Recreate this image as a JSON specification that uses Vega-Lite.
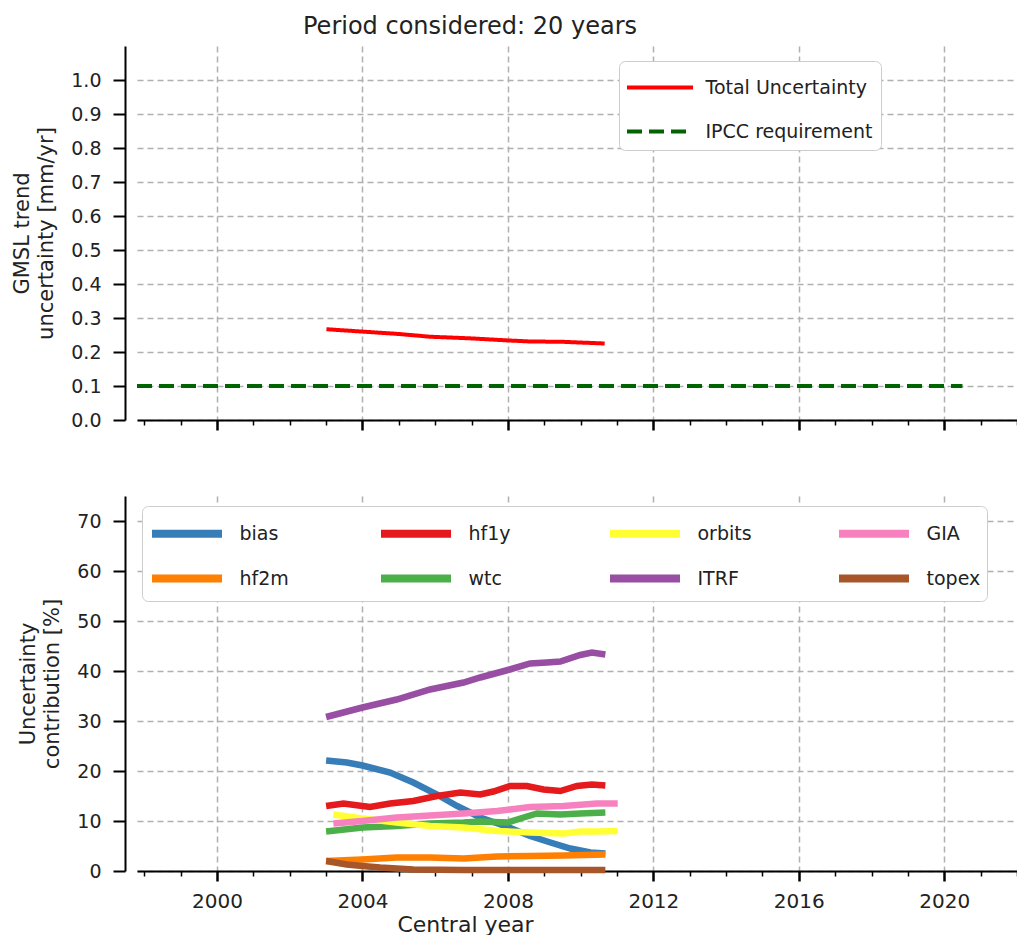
{
  "$schema": "https://vega.github.io/schema/vega-lite/v6.json",
  "padding": {"left": 11, "top": 15, "right": 0, "bottom": 0},
  "config": {
    "font": "DejaVu Sans",
    "view": {"stroke": null},
    "axis": {
      "domainColor": "black", "domainWidth": 2, "tickColor": "black",
      "labelColor": "#222222", "titleColor": "#222222",
      "labelFontSize": 19, "titleFontSize": 21, "titleFontWeight": "normal",
      "gridColor": "#b0b0b0", "gridDash": [6, 4], "gridWidth": 1.5, "labelOverlap": false
    }
  },
  "datasets": {
    "top": [
      {"year": 2003.01, "value": 0.267, "series": "Total Uncertainty"},
      {"year": 2004.0, "value": 0.260, "series": "Total Uncertainty"},
      {"year": 2005.0, "value": 0.253, "series": "Total Uncertainty"},
      {"year": 2005.85, "value": 0.245, "series": "Total Uncertainty"},
      {"year": 2007.0, "value": 0.240, "series": "Total Uncertainty"},
      {"year": 2008.0, "value": 0.234, "series": "Total Uncertainty"},
      {"year": 2008.6, "value": 0.231, "series": "Total Uncertainty"},
      {"year": 2009.5, "value": 0.230, "series": "Total Uncertainty"},
      {"year": 2010.66, "value": 0.225, "series": "Total Uncertainty"},
      {"year": 1997.8, "value": 0.1, "series": "IPCC requirement"},
      {"year": 2020.5, "value": 0.1, "series": "IPCC requirement"}
    ],
    "bottom": [
      {"year": 2003.0, "value": 22.1, "component": "bias"},
      {"year": 2003.57, "value": 21.7, "component": "bias"},
      {"year": 2004.0, "value": 21.1, "component": "bias"},
      {"year": 2004.76, "value": 19.7, "component": "bias"},
      {"year": 2005.4, "value": 17.7, "component": "bias"},
      {"year": 2006.05, "value": 15.3, "component": "bias"},
      {"year": 2006.6, "value": 13.0, "component": "bias"},
      {"year": 2007.24, "value": 10.7, "component": "bias"},
      {"year": 2008.0, "value": 8.8, "component": "bias"},
      {"year": 2008.61, "value": 7.0, "component": "bias"},
      {"year": 2009.17, "value": 5.7, "component": "bias"},
      {"year": 2009.72, "value": 4.5, "component": "bias"},
      {"year": 2010.27, "value": 3.7, "component": "bias"},
      {"year": 2010.68, "value": 3.5, "component": "bias"},
      {"year": 2003.0, "value": 2.0, "component": "hf2m"},
      {"year": 2004.0, "value": 2.3, "component": "hf2m"},
      {"year": 2004.94, "value": 2.7, "component": "hf2m"},
      {"year": 2005.86, "value": 2.7, "component": "hf2m"},
      {"year": 2006.78, "value": 2.5, "component": "hf2m"},
      {"year": 2007.7, "value": 2.9, "component": "hf2m"},
      {"year": 2008.61, "value": 3.0, "component": "hf2m"},
      {"year": 2009.53, "value": 3.1, "component": "hf2m"},
      {"year": 2010.68, "value": 3.3, "component": "hf2m"},
      {"year": 2003.0, "value": 13.0, "component": "hf1y"},
      {"year": 2003.48, "value": 13.5, "component": "hf1y"},
      {"year": 2004.0, "value": 13.0, "component": "hf1y"},
      {"year": 2004.21, "value": 12.8, "component": "hf1y"},
      {"year": 2004.76, "value": 13.5, "component": "hf1y"},
      {"year": 2005.4, "value": 14.0, "component": "hf1y"},
      {"year": 2006.05, "value": 15.0, "component": "hf1y"},
      {"year": 2006.69, "value": 15.7, "component": "hf1y"},
      {"year": 2007.24, "value": 15.3, "component": "hf1y"},
      {"year": 2007.6, "value": 15.9, "component": "hf1y"},
      {"year": 2008.06, "value": 17.0, "component": "hf1y"},
      {"year": 2008.52, "value": 17.0, "component": "hf1y"},
      {"year": 2008.98, "value": 16.3, "component": "hf1y"},
      {"year": 2009.44, "value": 16.0, "component": "hf1y"},
      {"year": 2009.9, "value": 17.0, "component": "hf1y"},
      {"year": 2010.31, "value": 17.3, "component": "hf1y"},
      {"year": 2010.68, "value": 17.1, "component": "hf1y"},
      {"year": 2003.0, "value": 7.9, "component": "wtc"},
      {"year": 2004.0, "value": 8.7, "component": "wtc"},
      {"year": 2004.94, "value": 9.0, "component": "wtc"},
      {"year": 2005.86, "value": 9.5, "component": "wtc"},
      {"year": 2006.78, "value": 9.7, "component": "wtc"},
      {"year": 2007.24, "value": 9.9, "component": "wtc"},
      {"year": 2008.0, "value": 9.7, "component": "wtc"},
      {"year": 2008.34, "value": 10.5, "component": "wtc"},
      {"year": 2008.8, "value": 11.5, "component": "wtc"},
      {"year": 2009.44, "value": 11.3, "component": "wtc"},
      {"year": 2009.99, "value": 11.5, "component": "wtc"},
      {"year": 2010.68, "value": 11.7, "component": "wtc"},
      {"year": 2003.2, "value": 11.3, "component": "orbits"},
      {"year": 2004.0, "value": 10.5, "component": "orbits"},
      {"year": 2004.94, "value": 9.7, "component": "orbits"},
      {"year": 2005.86, "value": 9.0, "component": "orbits"},
      {"year": 2006.78, "value": 8.7, "component": "orbits"},
      {"year": 2007.7, "value": 8.0, "component": "orbits"},
      {"year": 2008.61, "value": 7.7, "component": "orbits"},
      {"year": 2009.53, "value": 7.5, "component": "orbits"},
      {"year": 2009.99, "value": 7.9, "component": "orbits"},
      {"year": 2010.45, "value": 7.9, "component": "orbits"},
      {"year": 2011.02, "value": 8.0, "component": "orbits"},
      {"year": 2003.0, "value": 30.8, "component": "ITRF"},
      {"year": 2004.0, "value": 32.7, "component": "ITRF"},
      {"year": 2004.94, "value": 34.3, "component": "ITRF"},
      {"year": 2005.86, "value": 36.3, "component": "ITRF"},
      {"year": 2006.78, "value": 37.7, "component": "ITRF"},
      {"year": 2007.24, "value": 38.7, "component": "ITRF"},
      {"year": 2008.0, "value": 40.2, "component": "ITRF"},
      {"year": 2008.61, "value": 41.5, "component": "ITRF"},
      {"year": 2009.07, "value": 41.7, "component": "ITRF"},
      {"year": 2009.44, "value": 41.9, "component": "ITRF"},
      {"year": 2009.99, "value": 43.2, "component": "ITRF"},
      {"year": 2010.31, "value": 43.7, "component": "ITRF"},
      {"year": 2010.68, "value": 43.3, "component": "ITRF"},
      {"year": 2003.2, "value": 9.5, "component": "GIA"},
      {"year": 2004.0, "value": 10.0, "component": "GIA"},
      {"year": 2004.94, "value": 10.7, "component": "GIA"},
      {"year": 2005.86, "value": 11.1, "component": "GIA"},
      {"year": 2006.78, "value": 11.5, "component": "GIA"},
      {"year": 2007.7, "value": 12.0, "component": "GIA"},
      {"year": 2008.61, "value": 12.8, "component": "GIA"},
      {"year": 2009.53, "value": 13.0, "component": "GIA"},
      {"year": 2010.45, "value": 13.5, "component": "GIA"},
      {"year": 2011.02, "value": 13.5, "component": "GIA"},
      {"year": 2003.0, "value": 2.0, "component": "topex"},
      {"year": 2003.57, "value": 1.3, "component": "topex"},
      {"year": 2004.0, "value": 1.0, "component": "topex"},
      {"year": 2004.49, "value": 0.7, "component": "topex"},
      {"year": 2005.4, "value": 0.3, "component": "topex"},
      {"year": 2006.78, "value": 0.2, "component": "topex"},
      {"year": 2010.68, "value": 0.2, "component": "topex"}
    ]
  },
  "vconcat": [
    {
      "width": 880,
      "height": 374,
      "title": {"text": "Period considered: 20 years", "anchor": "start", "frame": "group", "align": "center", "dx": 333, "fontSize": 24, "fontWeight": "normal", "offset": 7, "color": "#222222"},
      "layer": [
        {
          "data": {"name": "top"},
          "mark": {"type": "line", "strokeWidth": 4},
          "encoding": {
            "x": {
              "field": "year", "type": "quantitative",
              "scale": {"domain": [1997.8, 2022], "nice": false, "zero": false},
              "axis": {
                "values": [1998, 1999, 2000, 2001, 2002, 2003, 2004, 2005, 2006, 2007, 2008, 2009, 2010, 2011, 2012, 2013, 2014, 2015, 2016, 2017, 2018, 2019, 2020, 2021, 2022],
                "labels": false, "title": null,
                "tickSize": {"condition": {"test": "datum.value % 4 === 0", "value": 10}, "value": 5},
                "tickWidth": {"condition": {"test": "datum.value % 4 === 0", "value": 2.5}, "value": 1.5},
                "grid": true,
                "gridOpacity": {"condition": {"test": "datum.value % 4 === 0", "value": 1}, "value": 0}
              }
            },
            "y": {
              "field": "value", "type": "quantitative",
              "scale": {"domain": [0, 1.1], "nice": false},
              "axis": {
                "values": [0, 0.1, 0.2, 0.3, 0.4, 0.5, 0.6, 0.7, 0.8, 0.9, 1.0],
                "format": ".1f", "offset": 12, "tickSize": 12, "tickWidth": 2,
                "labelPadding": 12, "grid": true,
                "title": ["GMSL trend", "uncertainty [mm/yr]"], "titlePadding": 14, "titleLineHeight": 24
              }
            },
            "color": {
              "field": "series", "type": "nominal",
              "scale": {"domain": ["Total Uncertainty", "IPCC requirement"], "range": ["#ff0000", "#006400"]},
              "legend": {
                "title": null, "orient": "none", "legendX": 482, "legendY": 15,
                "fillColor": "white", "strokeColor": "#cccccc", "cornerRadius": 6, "padding": 8,
                "symbolType": "M-2,0H2", "symbolSize": 1089, "symbolStrokeWidth": 4, "symbolOffset": 14.5,
                "labelFontSize": 19, "labelOffset": 27, "labelColor": "#222222", "rowPadding": 15, "labelLimit": 600
              }
            },
            "strokeDash": {
              "field": "series", "type": "nominal",
              "scale": {"domain": ["Total Uncertainty", "IPCC requirement"], "range": [[1, 0], [15, 7]]},
              "legend": {
                "title": null, "orient": "none", "legendX": 482, "legendY": 15,
                "fillColor": "white", "strokeColor": "#cccccc", "cornerRadius": 6, "padding": 8,
                "symbolType": "M-2,0H2", "symbolSize": 1089, "symbolStrokeWidth": 4, "symbolOffset": 14.5,
                "labelFontSize": 19, "labelOffset": 27, "labelColor": "#222222", "rowPadding": 15, "labelLimit": 600
              }
            }
          }
        },
        {
          "mark": {"type": "rule", "color": "black", "strokeWidth": 2},
          "encoding": {
            "y": {
              "datum": 1.1,
              "axis": {
                "values": [0, 0.1, 0.2, 0.3, 0.4, 0.5, 0.6, 0.7, 0.8, 0.9, 1.0],
                "format": ".1f", "offset": 12, "tickSize": 12, "tickWidth": 2,
                "labelPadding": 12, "grid": true,
                "title": ["GMSL trend", "uncertainty [mm/yr]"], "titlePadding": 14, "titleLineHeight": 24
              }
            }
          }
        }
      ]
    },
    {
      "width": 880,
      "height": 375,
      "data": {"name": "bottom"},
      "mark": {"type": "line", "strokeWidth": 6.5},
      "encoding": {
        "x": {
          "field": "year", "type": "quantitative",
          "scale": {"domain": [1997.8, 2022], "nice": false, "zero": false},
          "axis": {
            "values": [1998, 1999, 2000, 2001, 2002, 2003, 2004, 2005, 2006, 2007, 2008, 2009, 2010, 2011, 2012, 2013, 2014, 2015, 2016, 2017, 2018, 2019, 2020, 2021, 2022],
            "format": "d", "labelFontSize": 20,
            "labelExpr": "datum.value % 4 === 0 ? datum.label : ''",
            "title": "Central year", "titleFontSize": 22, "titlePadding": 3, "titleAnchor": "start", "titleAlign": "center", "titleX": 328,
            "labelPadding": 10,
            "tickSize": {"condition": {"test": "datum.value % 4 === 0", "value": 10}, "value": 5},
            "tickWidth": {"condition": {"test": "datum.value % 4 === 0", "value": 2.5}, "value": 1.5},
            "grid": true,
            "gridOpacity": {"condition": {"test": "datum.value % 4 === 0", "value": 1}, "value": 0}
          }
        },
        "y": {
          "field": "value", "type": "quantitative",
          "scale": {"domain": [0, 75], "nice": false},
          "axis": {
            "values": [0, 10, 20, 30, 40, 50, 60, 70],
            "offset": 12, "tickSize": 12, "tickWidth": 2,
            "labelPadding": 12, "grid": true,
            "title": ["Uncertainty", "contribution [%]"], "titlePadding": 14, "titleLineHeight": 24
          }
        },
        "color": {
          "field": "component", "type": "nominal",
          "scale": {
            "domain": ["bias", "hf2m", "hf1y", "wtc", "orbits", "ITRF", "GIA", "topex"],
            "range": ["#377eb8", "#ff7f00", "#e41a1c", "#4daf4a", "#ffff33", "#984ea3", "#f781bf", "#a65628"]
          },
          "legend": {
            "title": null, "orient": "none", "legendX": 5, "legendY": 10, "columns": 4,
            "gridAlign": "all", "columnPadding": 71, "rowPadding": 7,
            "fillColor": "white", "strokeColor": "#cccccc", "cornerRadius": 6, "padding": 6,
            "symbolType": "M-2,0H2", "symbolSize": 1225, "symbolStrokeWidth": 8, "symbolOffset": 17.5,
            "labelFontSize": 19, "labelOffset": 31, "labelColor": "#222222", "labelLimit": 300
          }
        }
      }
    }
  ],
  "spacing": 64,
  "resolve": {"scale": {"color": "independent", "strokeDash": "independent"}, "legend": {"color": "independent", "strokeDash": "independent"}}
}
